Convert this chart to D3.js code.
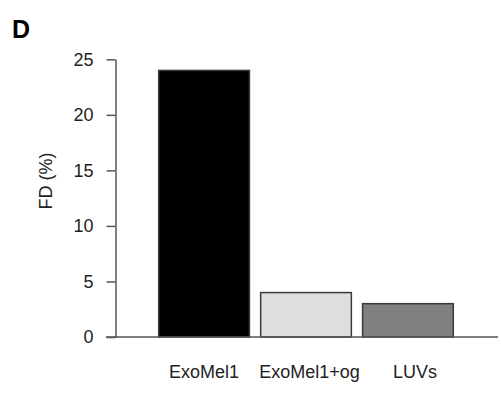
<!DOCTYPE html>
<html>
<head>
<meta charset="utf-8">
<script src="https://cdn.jsdelivr.net/npm/d3@7"></script>
<style>
  body { margin: 0; background: #fff; }
  text { font-family: "Liberation Sans", Arial, sans-serif; }
</style>
</head>
<body>
<div id="chart"></div>
<script>
// data
var categories = ["ExoMel1", "ExoMel1+og", "LUVs"];
var values = [24, 4, 3];
var barColors = ["#000000", "#dedede", "#808080"];
var yTicks = [0, 5, 10, 15, 20, 25];

function init() {
    var w = 501;
    var h = 394;

    var svg = d3.select("#chart")
        .append("svg")
        .attr("width", w)
        .attr("height", h);

    var yScale = d3.scaleLinear()
        .domain([0, 25])
        .range([337, 59.3]);

    // bars sit in bands from ~158 to ~454
    var xScale = d3.scaleBand()
        .domain(categories)
        .range([147.5, 464.5])
        .paddingInner(0.11)
        .paddingOuter(0.11);

    // panel letter
    svg.append("text")
        .attr("x", 12)
        .attr("y", 38)
        .style("font-size", "25px")
        .style("font-weight", "bold")
        .text("D");

    // y axis
    var yAxis = d3.axisLeft(yScale)
        .tickValues(yTicks)
        .tickSize(9)
        .tickPadding(13)
        .tickSizeOuter(0);

    var gy = svg.append("g")
        .attr("transform", "translate(115.5,0)")
        .call(yAxis);
    gy.select(".domain").attr("stroke", "#555").attr("stroke-width", 1.5);
    gy.selectAll(".tick line").attr("stroke", "#555").attr("stroke-width", 1.5);
    gy.selectAll(".tick text")
        .style("font-size", "18px")
        .style("font-family", "'Liberation Sans', Arial, sans-serif")
        .attr("fill", "#222");

    // y label
    svg.append("text")
        .attr("transform", "translate(52," + 181 + ") rotate(-90)")
        .attr("text-anchor", "middle")
        .style("font-size", "18px")
        .attr("fill", "#222")
        .text("FD (%)");

    // bars
    svg.selectAll("rect.bar")
        .data(values)
        .enter()
        .append("rect")
        .attr("class", "bar")
        .attr("x", function (d, i) { return xScale(categories[i]); })
        .attr("y", function (d) { return yScale(d); })
        .attr("width", xScale.bandwidth())
        .attr("height", function (d) { return yScale(0) - yScale(d); })
        .attr("fill", function (d, i) { return barColors[i]; })
        .attr("stroke", "#3a3a3a")
        .attr("stroke-width", 1.5);

    // baseline
    svg.append("line")
        .attr("x1", 106)
        .attr("x2", 498)
        .attr("y1", yScale(0))
        .attr("y2", yScale(0))
        .attr("stroke", "#555")
        .attr("stroke-width", 1.5);

    // category labels (slightly spread out to the right, like the original)
    svg.selectAll("text.cat")
        .data(categories)
        .enter()
        .append("text")
        .attr("class", "cat")
        .attr("x", function (d, i) { return xScale(d) + xScale.bandwidth() / 2 + i * 3.5; })
        .attr("y", 378)
        .attr("text-anchor", "middle")
        .style("font-size", "18px")
        .attr("fill", "#222")
        .text(function (d) { return d; });
}

window.onload = init;
</script>
</body>
</html>
